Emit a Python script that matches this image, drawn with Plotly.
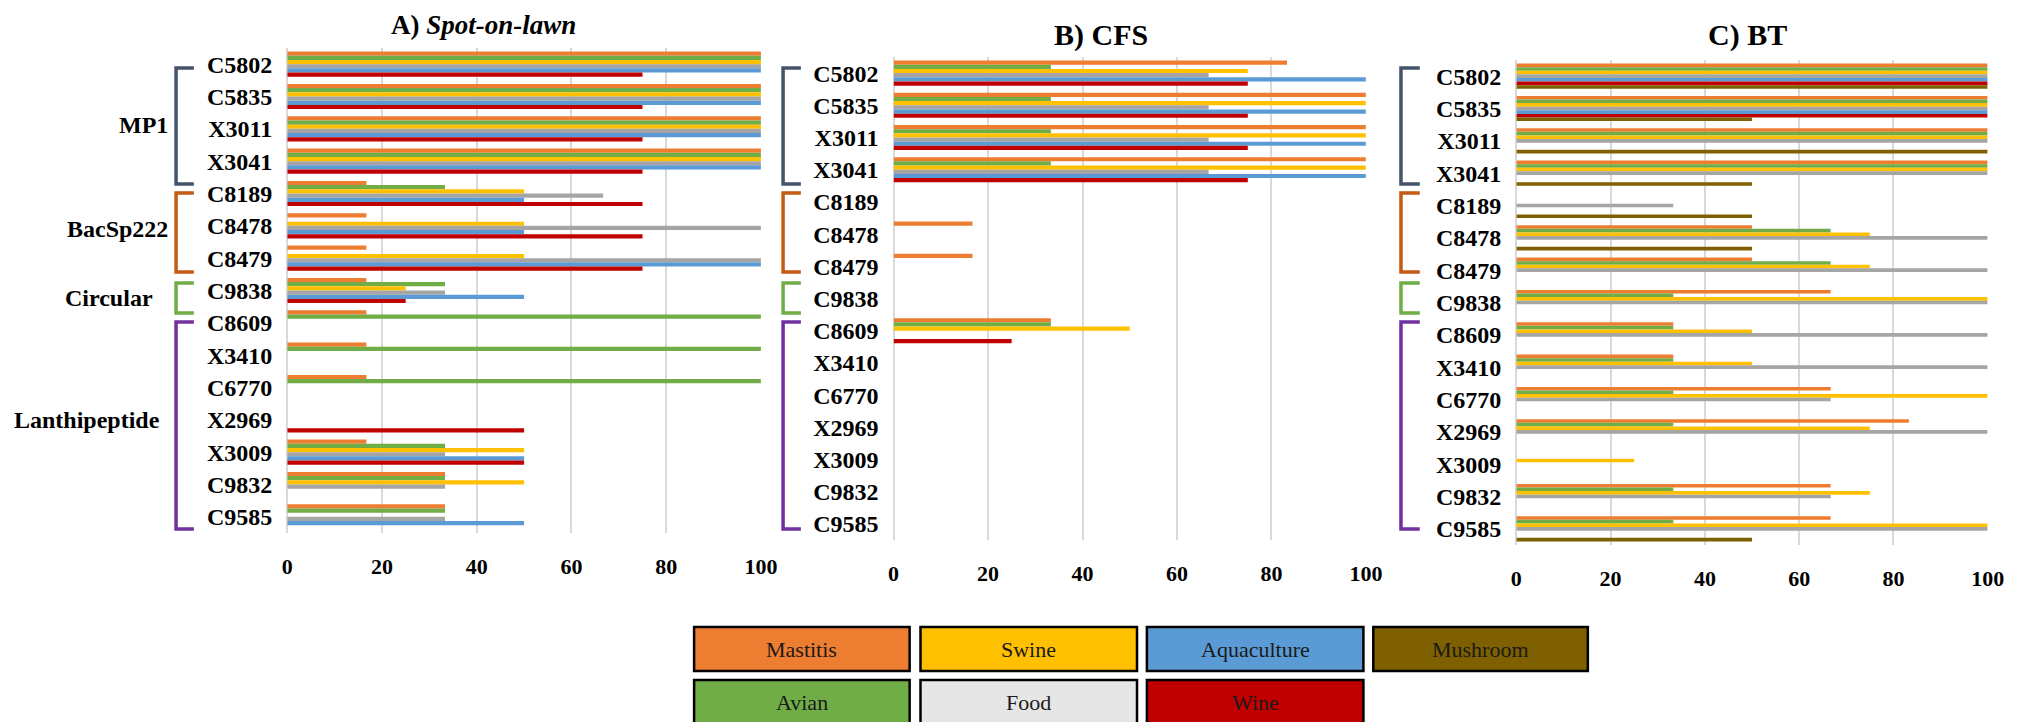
import plotly.graph_objects as go

# Canvas size; every paper position below is given in pixels and converted.
W, H = 2026, 722


def px(x):
    return x / W


def py(y):
    return 1 - y / H


# ---------------------------------------------------------------- data
categories = ["C5802", "C5835", "X3011", "X3041", "C8189", "C8478", "C8479",
              "C9838", "C8609", "X3410", "C6770", "X2969", "X3009", "C9832",
              "C9585"]
x_ticks = [0, 20, 40, 60, 80, 100]

# A) Spot-on-lawn (%)
mastitis_a = [100, 100, 100, 100, 16.7, 16.7, 16.7, 16.7, 16.7, 16.7, 16.7, 0, 16.7, 33.3, 33.3]
avian_a = [100, 100, 100, 100, 33.3, 0, 0, 33.3, 100, 100, 100, 0, 33.3, 33.3, 33.3]
swine_a = [100, 100, 100, 100, 50, 50, 50, 25, 0, 0, 0, 0, 50, 50, 0]
food_a = [100, 100, 100, 100, 66.7, 100, 100, 33.3, 0, 0, 0, 0, 33.3, 33.3, 33.3]
aquaculture_a = [100, 100, 100, 100, 50, 50, 100, 50, 0, 0, 0, 0, 50, 0, 50]
wine_a = [75, 75, 75, 75, 75, 75, 75, 25, 0, 0, 0, 50, 50, 0, 0]

# B) CFS (%)
mastitis_b = [83.3, 100, 100, 100, 0, 16.7, 16.7, 0, 33.3, 0, 0, 0, 0, 0, 0]
avian_b = [33.3, 33.3, 33.3, 33.3, 0, 0, 0, 0, 33.3, 0, 0, 0, 0, 0, 0]
swine_b = [75, 100, 100, 100, 0, 0, 0, 0, 50, 0, 0, 0, 0, 0, 0]
food_b = [66.7, 66.7, 66.7, 66.7, 0, 0, 0, 0, 0, 0, 0, 0, 0, 0, 0]
aquaculture_b = [100, 100, 100, 100, 0, 0, 0, 0, 0, 0, 0, 0, 0, 0, 0]
wine_b = [75, 75, 75, 75, 0, 0, 0, 0, 25, 0, 0, 0, 0, 0, 0]

# C) BT (%)
mastitis_c = [100, 100, 100, 100, 0, 50, 50, 66.7, 33.3, 33.3, 66.7, 83.3, 0, 66.7, 66.7]
avian_c = [100, 100, 100, 100, 0, 66.7, 66.7, 33.3, 33.3, 33.3, 33.3, 33.3, 0, 33.3, 33.3]
swine_c = [100, 100, 100, 100, 0, 75, 75, 100, 50, 50, 100, 75, 25, 75, 100]
food_c = [100, 100, 100, 100, 33.3, 100, 100, 100, 100, 100, 66.7, 100, 0, 66.7, 100]
aquaculture_c = [100, 100, 0, 0, 0, 0, 0, 0, 0, 0, 0, 0, 0, 0, 0]
wine_c = [100, 100, 0, 0, 0, 0, 0, 0, 0, 0, 0, 0, 0, 0, 0]
mushroom_c = [100, 50, 100, 50, 50, 50, 0, 0, 0, 0, 0, 0, 0, 0, 50]

legend_order = ["Mastitis", "Swine", "Aquaculture", "Mushroom", "Avian", "Food", "Wine"]

# ---------------------------------------------------------------- styling
BAR_COLORS = {
    "Mastitis": "#ED7D31", "Avian": "#70AD47", "Swine": "#FFC000",
    "Food": "#A5A5A5", "Aquaculture": "#5B9BD5", "Wine": "#C00000",
    "Mushroom": "#7F6000",
}
LEGEND_COLORS = dict(BAR_COLORS, Food="#E7E6E6")
SERIF = "Liberation Serif, Times New Roman, serif"
GRID = "#D9D9D9"

panels = [
    dict(xa="x", ya="y", x0=284.5, x1=763.6, top=48, bottom=533,
         series=[("Mastitis", mastitis_a), ("Avian", avian_a), ("Swine", swine_a),
                 ("Food", food_a), ("Aquaculture", aquaculture_a), ("Wine", wine_a)]),
    dict(xa="x2", ya="y2", x0=897.8, x1=1375.5, top=57, bottom=540,
         series=[("Mastitis", mastitis_b), ("Avian", avian_b), ("Swine", swine_b),
                 ("Food", food_b), ("Aquaculture", aquaculture_b), ("Wine", wine_b)]),
    dict(xa="x3", ya="y3", x0=1527.7, x1=2004.4, top=60, bottom=545,
         series=[("Mastitis", mastitis_c), ("Avian", avian_c), ("Swine", swine_c),
                 ("Food", food_c), ("Aquaculture", aquaculture_c), ("Wine", wine_c),
                 ("Mushroom", mushroom_c)]),
]

fig = go.Figure()
layout = {}
for p in panels:
    for name, vals in p["series"]:
        fig.add_trace(go.Bar(
            x=vals, y=categories, orientation="h", name=name,
            marker=dict(color=BAR_COLORS[name], line=dict(width=0)),
            xaxis=p["xa"], yaxis=p["ya"], showlegend=False,
            hovertemplate=name + " %{y}: %{x}<extra></extra>",
        ))
    xkey = "xaxis" + p["xa"][1:]
    ykey = "yaxis" + p["ya"][1:]
    layout[xkey] = dict(
        domain=[px(p["x0"]), px(p["x1"])], range=[0, 100], anchor=p["ya"],
        tickvals=x_ticks, ticks="", showline=False,
        showgrid=True, gridcolor=GRID, gridwidth=2,
        zeroline=True, zerolinecolor=GRID, zerolinewidth=2,
        tickfont=dict(family=SERIF, size=22, color="black", weight="bold"),
        ticklabelstandoff=18, fixedrange=True,
    )
    layout[ykey] = dict(
        domain=[py(p["bottom"]), py(p["top"])], anchor=p["xa"],
        type="category", categoryorder="array", categoryarray=categories,
        autorange="reversed", ticks="", showline=False, showgrid=False,
        zeroline=False,
        tickfont=dict(family=SERIF, size=24, color="black", weight="bold"),
        ticklabelstandoff=14, fixedrange=True,
    )

annotations = []
shapes = []

# Panel titles
for text, cx, cy, size in [("<b>A) <i>Spot-on-lawn</i></b>", 483, 25, 27),
                           ("<b>B) CFS</b>", 1108, 35, 30),
                           ("<b>C) BT</b>", 1761, 35, 30)]:
    annotations.append(dict(text=text, x=px(cx), y=py(cy), xref="paper", yref="paper",
                            xanchor="center", yanchor="middle", showarrow=False,
                            font=dict(family=SERIF, size=size, color="black")))

# Gene-cluster brackets (same vertical spans in each panel)
groups = [("MP1", "#44546A", 68, 184), ("BacSp222", "#C55A11", 193, 272),
          ("Circular", "#70AD47", 283, 313), ("Lanthipeptide", "#7030A0", 322, 529)]
bracket_x = [(172, 190), (786, 804), (1411, 1430)]
for bx0, bx1 in bracket_x:
    for _, col, y0, y1 in groups:
        path = (f"M {px(bx1)},{py(y0)} L {px(bx0)},{py(y0)} "
                f"L {px(bx0)},{py(y1)} L {px(bx1)},{py(y1)}")
        shapes.append(dict(type="path", path=path, xref="paper", yref="paper",
                           line=dict(color=col, width=3.5)))

# Group names beside the first panel
for (name, _, _, _), rx, cy in zip(groups, [166, 166, 151, 158], [125, 229, 298, 420]):
    annotations.append(dict(text=f"<b>{name}</b>", x=px(rx), y=py(cy),
                            xref="paper", yref="paper", xanchor="right",
                            yanchor="middle", showarrow=False,
                            font=dict(family=SERIF, size=24, color="black")))

# Boxed legend along the bottom
box_x = [(696, 914), (925, 1144), (1154, 1373), (1383, 1600)]
box_y = [(627, 671), (680, 724)]
for i, name in enumerate(legend_order):
    bx0, bx1 = box_x[i % 4]
    by0, by1 = box_y[i // 4]
    shapes.append(dict(type="rect", xref="paper", yref="paper",
                       x0=px(bx0), x1=px(bx1), y0=py(by1), y1=py(by0),
                       fillcolor=LEGEND_COLORS[name],
                       line=dict(color="black", width=2.5)))
    annotations.append(dict(text=name, x=px((bx0 + bx1) / 2), y=py(by0 + 22),
                            xref="paper", yref="paper", xanchor="center",
                            yanchor="middle", showarrow=False,
                            font=dict(family=SERIF, size=22, color="#1a1a1a")))

fig.update_layout(
    width=W, height=H, margin=dict(l=0, r=0, t=0, b=0, pad=0),
    paper_bgcolor="white", plot_bgcolor="white",
    barmode="group", bargap=0.22, bargroupgap=0,
    showlegend=False, annotations=annotations, shapes=shapes,
    **layout,
)

fig.write_html("out.html")
